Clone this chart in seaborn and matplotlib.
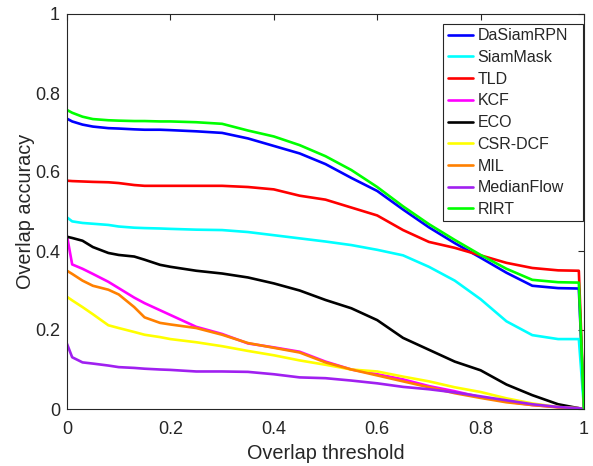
import numpy as np
import pandas as pd
import matplotlib
matplotlib.use("Agg")
import matplotlib.pyplot as plt
import seaborn as sns

thresholds = [0, 0.01, 0.03, 0.05, 0.08, 0.10, 0.13, 0.15, 0.18, 0.20, 0.25, 0.30, 0.35,
              0.40, 0.45, 0.50, 0.55, 0.60, 0.65, 0.70, 0.75, 0.80, 0.85, 0.90, 0.95, 0.99, 1.0]

dasiamrpn = [0.735, 0.728, 0.720, 0.715, 0.711, 0.710, 0.708, 0.707, 0.707, 0.706, 0.703, 0.699, 0.685,
             0.666, 0.647, 0.620, 0.585, 0.552, 0.505, 0.460, 0.420, 0.383, 0.345, 0.312, 0.306, 0.305, 0.0]
siammask = [0.485, 0.475, 0.471, 0.469, 0.466, 0.462, 0.459, 0.458, 0.457, 0.456, 0.454, 0.453, 0.448,
            0.440, 0.432, 0.424, 0.415, 0.403, 0.389, 0.360, 0.325, 0.278, 0.222, 0.187, 0.177, 0.177, 0.0]
tld = [0.578, 0.577, 0.576, 0.575, 0.574, 0.572, 0.567, 0.565, 0.565, 0.565, 0.565, 0.565, 0.562,
       0.556, 0.540, 0.530, 0.510, 0.490, 0.453, 0.423, 0.408, 0.389, 0.370, 0.357, 0.351, 0.350, 0.0]
kcf = [0.438, 0.366, 0.355, 0.342, 0.322, 0.306, 0.282, 0.268, 0.250, 0.238, 0.208, 0.190, 0.166,
       0.156, 0.145, 0.120, 0.100, 0.088, 0.075, 0.058, 0.045, 0.030, 0.019, 0.010, 0.005, 0.002, 0.0]
eco = [0.436, 0.433, 0.426, 0.410, 0.395, 0.390, 0.386, 0.378, 0.365, 0.360, 0.350, 0.343, 0.333,
       0.318, 0.300, 0.276, 0.255, 0.225, 0.180, 0.150, 0.120, 0.098, 0.062, 0.035, 0.012, 0.002, 0.0]
csr_dcf = [0.284, 0.275, 0.258, 0.240, 0.212, 0.205, 0.195, 0.188, 0.182, 0.177, 0.169, 0.159, 0.147,
           0.136, 0.123, 0.112, 0.100, 0.095, 0.082, 0.070, 0.055, 0.043, 0.027, 0.014, 0.005, 0.002, 0.0]
mil = [0.350, 0.342, 0.325, 0.312, 0.302, 0.290, 0.258, 0.232, 0.218, 0.214, 0.205, 0.188, 0.167,
       0.155, 0.143, 0.118, 0.100, 0.085, 0.070, 0.055, 0.040, 0.028, 0.017, 0.010, 0.004, 0.001, 0.0]
medianflow = [0.165, 0.131, 0.118, 0.115, 0.110, 0.106, 0.104, 0.102, 0.100, 0.099, 0.095, 0.095, 0.094,
              0.088, 0.080, 0.078, 0.072, 0.065, 0.056, 0.050, 0.042, 0.032, 0.022, 0.012, 0.005, 0.002, 0.0]
rirt = [0.757, 0.750, 0.740, 0.734, 0.731, 0.730, 0.729, 0.729, 0.728, 0.728, 0.726, 0.722, 0.705,
        0.690, 0.668, 0.640, 0.605, 0.562, 0.513, 0.468, 0.428, 0.390, 0.355, 0.327, 0.321, 0.320, 0.0]

names = ["DaSiamRPN", "SiamMask", "TLD", "KCF", "ECO", "CSR-DCF", "MIL", "MedianFlow", "RIRT"]
series = [dasiamrpn, siammask, tld, kcf, eco, csr_dcf, mil, medianflow, rirt]
colors = ["#0000ff", "#00ffff", "#ff0000", "#ff00ff", "#000000", "#ffff00", "#ff8000", "#a020f0", "#00ff00"]

sns.set_style("white")
plt.rcParams["font.family"] = ["Liberation Sans", "DejaVu Sans"]

fig = plt.figure(figsize=(5.93, 4.66), dpi=100)
ax = fig.add_axes([67/593, 57/466, 517/593, 395/466])

for name, vals, c in zip(names, series, colors):
    df = pd.DataFrame({"x": thresholds, "y": vals})
    sns.lineplot(data=df, x="x", y="y", ax=ax, color=c, label=name, linewidth=1.9, sort=False)

ax.set_xlim(0, 1)
ax.set_ylim(0, 1)
ax.set_xticks([0, 0.2, 0.4, 0.6, 0.8, 1])
ax.set_xticklabels(["0", "0.2", "0.4", "0.6", "0.8", "1"])
ax.set_yticks([0, 0.2, 0.4, 0.6, 0.8, 1])
ax.set_yticklabels(["0", "0.2", "0.4", "0.6", "0.8", "1"])
ax.tick_params(direction="in", length=4, width=0.8, colors="#262626", labelsize=13,
               top=True, right=True, pad=5)
ax.tick_params(axis="x", pad=9)
for s in ax.spines.values():
    s.set_color("#262626")
    s.set_linewidth(0.8)
ax.set_xlabel("Overlap threshold", fontsize=14.3, color="#262626", labelpad=4)
ax.set_ylabel("Overlap accuracy", fontsize=14.3, color="#262626", labelpad=0)

leg = ax.legend(loc="upper left", bbox_to_anchor=(0.728, 0.0, 0.2697, 0.975), mode="expand",
                borderaxespad=0, fontsize=11.5, frameon=True, fancybox=False, framealpha=1,
                edgecolor="#262626", handlelength=1.6, handletextpad=0.25,
                labelspacing=0.42, borderpad=0.28)
leg.get_frame().set_linewidth(0.8)
for t in leg.get_texts():
    t.set_color("#262626")

fig.savefig("out.png", dpi=100)
